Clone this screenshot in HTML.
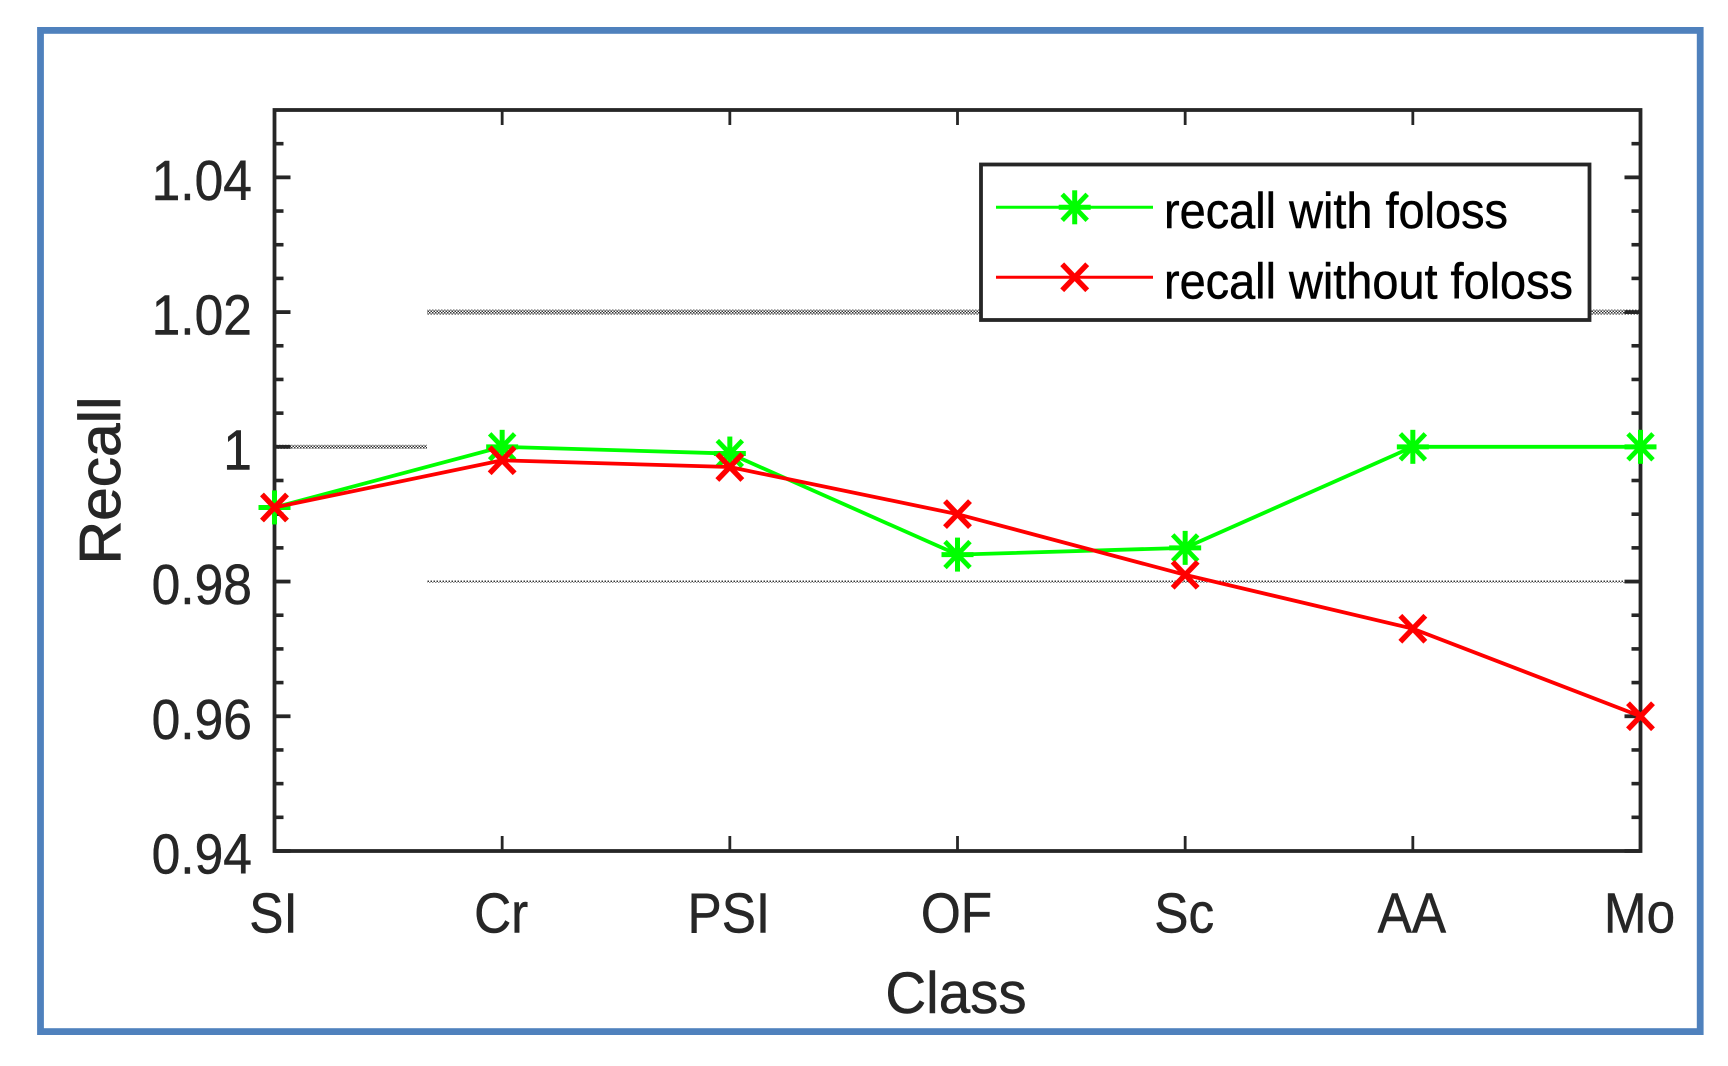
<!DOCTYPE html>
<html lang="en">
<head>
<meta charset="utf-8">
<title>Recall by Class</title>
<style>
html,body{margin:0;padding:0;background:#fff;width:1728px;height:1066px;overflow:hidden}
svg{display:block}
text{font-family:"Liberation Sans",Arial,sans-serif}
</style>
</head>
<body>
<svg id="chart" xmlns="http://www.w3.org/2000/svg" width="1728" height="1066" viewBox="0 0 1728 1066">
  <defs>
    <pattern id="checker" width="3" height="3" patternUnits="userSpaceOnUse">
      <rect width="3" height="3" fill="#fff"/>
      <rect width="1.5" height="1.5" fill="#333"/>
      <rect x="1.5" y="1.5" width="1.5" height="1.5" fill="#333"/>
    </pattern>
  </defs>
  <rect width="1728" height="1066" fill="#fff"/>
  <rect x="40.5" y="30.4" width="1659.7" height="1001.2" fill="none" stroke="#4f81bd" stroke-width="6.8"/>
  <g id="grid"></g>
  <g id="axes"></g>
  <g id="series"></g>
  <g id="legend"></g>
</svg>
<script>
const categories = ["SI", "Cr", "PSI", "OF", "Sc", "AA", "Mo"];
const recallWithFoloss = [0.991, 1.0, 0.999, 0.984, 0.985, 1.0, 1.0];
const recallWithoutFoloss = [0.991, 0.998, 0.997, 0.990, 0.981, 0.973, 0.960];
const yTickValues = [0.94, 0.96, 0.98, 1.0, 1.02, 1.04];
const yTickLabels = ["0.94", "0.96", "0.98", "1", "1.02", "1.04"];
const yMinorTickValues = [0.945, 0.95, 0.955, 0.965, 0.97, 0.975, 0.985, 0.99, 0.995, 1.005, 1.01, 1.015, 1.025, 1.03, 1.035, 1.045];
const yDomain = [0.94, 1.05];
const legendLabels = ["recall with foloss", "recall without foloss"];

const NS = "http://www.w3.org/2000/svg";
const plotLeft = 274.5, plotRight = 1640.5, plotTop = 110, plotBottom = 851;
const dark = "#262626";
const xScale = i => plotLeft + i * (plotRight - plotLeft) / (categories.length - 1);
const yScale = v => plotBottom - (v - yDomain[0]) / (yDomain[1] - yDomain[0]) * (plotBottom - plotTop);

function make(parent, tag, attrs) {
  const el = document.createElementNS(NS, tag);
  for (const k in attrs) el.setAttribute(k, attrs[k]);
  parent.appendChild(el);
  return el;
}
function segment(parent, x1, y1, x2, y2, color, width) {
  return make(parent, "line", { x1, y1, x2, y2, stroke: color, "stroke-width": width });
}
function drawStar(parent, cx, cy, color) {
  const g = make(parent, "g", {});
  segment(g, cx - 16, cy, cx + 16, cy, color, 5);
  segment(g, cx, cy - 17, cx, cy + 17, color, 5);
  segment(g, cx - 12.5, cy - 13, cx + 12.5, cy + 13, color, 4.8);
  segment(g, cx - 12.5, cy + 13, cx + 12.5, cy - 13, color, 4.8);
  return g;
}
function drawCross(parent, cx, cy, color) {
  const g = make(parent, "g", {});
  segment(g, cx - 12.5, cy - 13, cx + 12.5, cy + 13, color, 5.4);
  segment(g, cx - 12.5, cy + 13, cx + 12.5, cy - 13, color, 5.4);
  return g;
}
function label(parent, str, x, y, size, anchor, sx, color) {
  const t = make(parent, "text", {
    transform: "translate(" + x + "," + y + ") scale(" + sx + ",1)",
    "font-size": size, "text-anchor": anchor, fill: color,
    stroke: color, "stroke-width": 0.5
  });
  t.textContent = str;
  return t;
}

/* background reference bands */
const grid = document.getElementById("grid");
const band1 = make(grid, "rect", { x: 427, y: yScale(1.02) - 2.5, width: plotRight - 427, height: 5, fill: "url(#checker)" });


const band2 = make(grid, "rect", { x: plotLeft, y: yScale(1.0) - 2, width: 427 - plotLeft, height: 4, fill: "url(#checker)" });


const band3 = make(grid, "rect", { x: 427, y: yScale(0.98) - 1, width: plotRight - 427, height: 2, fill: "url(#checker)" });



/* axes */
const axes = document.getElementById("axes");
const box = make(axes, "rect", { x: plotLeft, y: plotTop, width: plotRight - plotLeft, height: plotBottom - plotTop, fill: "none", stroke: dark, "stroke-width": 3.8 });



yTickValues.forEach((v, i) => {
  const y = yScale(v);
  const tl = segment(axes, plotLeft, y, plotLeft + 16, y, dark, 3.8);
  
  
  const tr = segment(axes, plotRight, y, plotRight - 16, y, dark, 3.8);
  
  
  const t = label(axes, yTickLabels[i], 252, y + 22.5, 57, "end", 0.905, dark);
  
  
});
yMinorTickValues.forEach(v => {
  const y = yScale(v);
  const tl = segment(axes, plotLeft, y, plotLeft + 9, y, dark, 3.6);
  
  
  const tr = segment(axes, plotRight, y, plotRight - 9, y, dark, 3.6);
  
  
});
categories.forEach((c, i) => {
  const x = xScale(i);
  if (i > 0 && i < categories.length - 1) {
    const tb = segment(axes, x, plotBottom, x, plotBottom - 15, dark, 2.8);
    
    
    const tt = segment(axes, x, plotTop, x, plotTop + 15, dark, 2.8);
    
    
  }
  const t = label(axes, c, x - 1, 932.5, 57, "middle", 0.9, dark);
  
  
});

const xTitle = label(axes, "Class", 956, 1013, 58, "middle", 0.975, dark);



const yTitle = make(axes, "text", {
  transform: "translate(120,480.5) rotate(-90)",
  "font-size": 58, "text-anchor": "middle", fill: dark,
  stroke: dark, "stroke-width": 0.8,
  textLength: 168, lengthAdjust: "spacingAndGlyphs"
});
yTitle.textContent = "Recall";



/* series */
const seriesG = document.getElementById("series");
const toPoints = vals => vals.map((v, i) => xScale(i) + "," + yScale(v)).join(" ");

const greenLine = make(seriesG, "polyline", { points: toPoints(recallWithFoloss), fill: "none", stroke: "#00ff00", "stroke-width": 3.8 });


recallWithFoloss.forEach((v, i) => {
  const m = drawStar(seriesG, xScale(i), yScale(v), "#00ff00");
  
  
});
const redLine = make(seriesG, "polyline", { points: toPoints(recallWithoutFoloss), fill: "none", stroke: "#ff0000", "stroke-width": 3.8 });


recallWithoutFoloss.forEach((v, i) => {
  const m = drawCross(seriesG, xScale(i), yScale(v), "#ff0000");
  
  
});

/* legend */
const legendG = document.getElementById("legend");
const legendBox = make(legendG, "rect", { x: 981, y: 164.5, width: 608.5, height: 155.5, fill: "#fff", stroke: dark, "stroke-width": 3.8 });



const e1 = segment(legendG, 996, 207.3, 1153, 207.3, "#00ff00", 3);


const e1m = drawStar(legendG, 1074.7, 207.3, "#00ff00");


const e1t = make(legendG, "text", { x: 1164, y: 228, "font-size": 50, fill: "#000", stroke: "#000", "stroke-width": 0.5, textLength: 344, lengthAdjust: "spacingAndGlyphs" });
e1t.textContent = legendLabels[0];



const e2 = segment(legendG, 996, 277.3, 1153, 277.3, "#ff0000", 3);


const e2m = drawCross(legendG, 1074.7, 277.3, "#ff0000");


const e2t = make(legendG, "text", { x: 1164, y: 298.5, "font-size": 50, fill: "#000", stroke: "#000", "stroke-width": 0.5, textLength: 409, lengthAdjust: "spacingAndGlyphs" });
e2t.textContent = legendLabels[1];


</script>
</body>
</html>
